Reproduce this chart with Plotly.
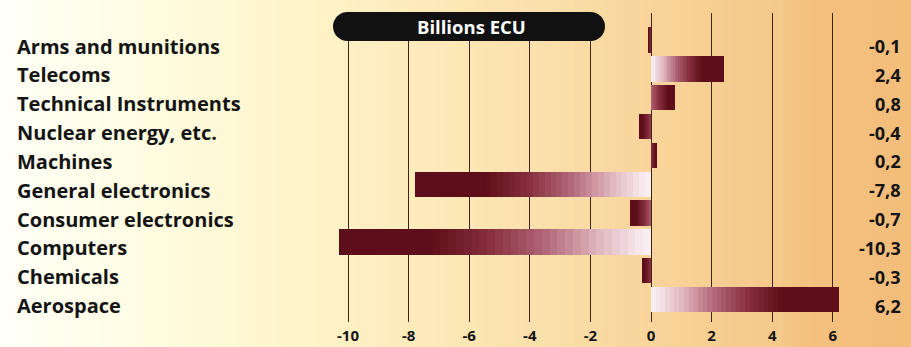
import plotly.graph_objects as go

# Trade balance by sector, billions ECU
sectors = [
    "Arms and munitions", "Telecoms", "Technical Instruments",
    "Nuclear energy, etc.", "Machines", "General electronics",
    "Consumer electronics", "Computers", "Chemicals", "Aerospace",
]
balance = [-0.1, 2.4, 0.8, -0.4, 0.2, -7.8, -0.7, -10.3, -0.3, 6.2]
tick_values = [-10, -8, -6, -4, -2, 0, 2, 4, 6]
tick_labels = ["-10", "-8", "-6", "-4", "-2", "0", "2", "4", "6"]
unit_title = "Billions ECU"

W, H = 911, 347
TOP, BOTTOM = 13, 25
FONT = "Open Sans"


def hex_rgb(h):
    h = h.lstrip("#")
    return [int(h[i:i + 2], 16) for i in (0, 2, 4)]


def ramp(stops, t):
    t = max(0.0, min(1.0, t))
    for (p0, c0), (p1, c1) in zip(stops, stops[1:]):
        if t <= p1:
            f = 0 if p1 == p0 else (t - p0) / (p1 - p0)
            a, b = hex_rgb(c0), hex_rgb(c1)
            return "rgb(%d,%d,%d)" % tuple(round(a[i] + (b[i] - a[i]) * f) for i in range(3))
    return stops[-1][1]


# warm paper background, pale on the left and orange on the right
bg_stops = [
    (0.00, "#fffff8"), (0.14, "#fffde4"), (0.33, "#fff4ca"),
    (0.45, "#fdebbc"), (0.60, "#fadfaa"), (0.72, "#f8d49a"),
    (0.86, "#f5c888"), (0.88, "#f4c17f"), (1.00, "#f3bd7a"),
]
bar_stops = [
    (0.00, "#f9eef2"), (0.22, "#dfb5bd"), (0.48, "#b06474"),
    (0.74, "#862d3d"), (1.00, "#5e0e1a"),
]

shapes = []
n_strips = 92
for i in range(n_strips):
    x0 = i / n_strips
    x1 = (i + 1) / n_strips + 0.002
    shapes.append(dict(
        type="rect", xref="paper", yref="paper", x0=x0, x1=x1,
        y0=-0.2, y1=1.1, fillcolor=ramp(bg_stops, (i + 0.5) / n_strips),
        line=dict(width=0), layer="below",
    ))

fig = go.Figure()

# each bar is built from nested segments so it fades from white at zero
# to deep maroon at its end
N = 40
for k in range(N - 1, -1, -1):
    frac = (k + 1) / N
    t_mid = (k + 0.5) / N
    colors = []
    for v in balance:
        mag = abs(v)
        s = max(0.0, min(1.0, 1 - mag / 2.0)) * 0.85
        r = max(0.0, min(1.0, (t_mid - 0.02) / 0.68))
        colors.append(ramp(bar_stops, s + (1 - s) * r))
    fig.add_trace(go.Bar(
        y=sectors, x=[v * frac for v in balance], base=0,
        orientation="h", width=0.88,
        marker=dict(color=colors, line=dict(width=0)),
        hoverinfo="skip", showlegend=False,
    ))

plot_h = H - TOP - BOTTOM


def py(pix):
    return (H - BOTTOM - pix) / plot_h


def px(pix):
    return pix / W


# black rounded title banner
pill_l, pill_r, pill_t, pill_b = 333, 605, 12, 41
rad = (pill_b - pill_t) / 2
shapes.append(dict(type="rect", xref="paper", yref="paper",
                   x0=px(pill_l + rad), x1=px(pill_r - rad),
                   y0=py(pill_b), y1=py(pill_t),
                   fillcolor="#111111", line=dict(width=0), layer="above"))
for cx in (pill_l + rad, pill_r - rad):
    shapes.append(dict(type="circle", xref="paper", yref="paper",
                       x0=px(cx - rad), x1=px(cx + rad),
                       y0=py(pill_b), y1=py(pill_t),
                       fillcolor="#111111", line=dict(width=0), layer="above"))

annotations = [dict(
    text="<b>%s</b>" % unit_title, xref="paper", yref="paper",
    x=px((pill_l + pill_r) / 2 + 2), y=py((pill_t + pill_b) / 2),
    showarrow=False, font=dict(family=FONT, size=18.5, color="white"),
    xanchor="center", yanchor="middle",
)]

for name, v in zip(sectors, balance):
    annotations.append(dict(
        text="<b>%s</b>" % name, xref="paper", yref="y", x=px(15), y=name,
        xanchor="left", yanchor="middle", yshift=-6, showarrow=False,
        font=dict(family=FONT, size=20, color="#141414"),
    ))
    annotations.append(dict(
        text="<b>%s</b>" % ("%.1f" % v).replace(".", ","), xref="paper",
        yref="y", x=px(903), y=name, xanchor="right", yanchor="middle",
        yshift=-6, showarrow=False,
        font=dict(family=FONT, size=18, color="#141414"),
    ))

x0_pix, unit_pix = 651, 30.3
fig.update_layout(
    width=W, height=H,
    margin=dict(l=0, r=0, t=TOP, b=BOTTOM, pad=0, autoexpand=False),
    paper_bgcolor="#f8d8a0", plot_bgcolor="rgba(0,0,0,0)",
    barmode="overlay", bargap=0,
    shapes=shapes, annotations=annotations,
    xaxis=dict(
        range=[-x0_pix / unit_pix, (W - x0_pix) / unit_pix],
        tickvals=tick_values, ticktext=["<b>%s</b>" % t for t in tick_labels],
        showgrid=True, gridcolor="#3e2418", gridwidth=1,
        zeroline=True, zerolinecolor="#3e2418", zerolinewidth=1,
        ticks="", ticklabelstandoff=3, automargin=False,
        tickfont=dict(family=FONT, size=15, color="#141414"),
        showline=False, fixedrange=True,
    ),
    yaxis=dict(
        categoryorder="array", categoryarray=sectors, automargin=False,
        range=[9.78, -0.94], showticklabels=False, showgrid=False,
        zeroline=False, showline=False, fixedrange=True,
    ),
)

fig.write_html("out.html")
